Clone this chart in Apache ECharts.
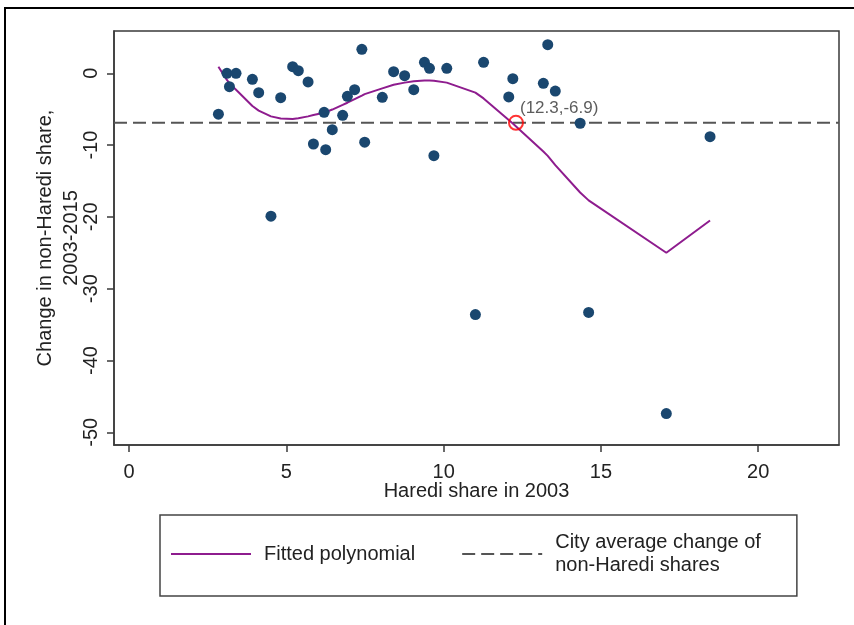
<!DOCTYPE html>
<html>
<head>
<meta charset="utf-8">
<title>Haredi share vs change in non-Haredi share</title>
<script src="https://cdn.jsdelivr.net/npm/echarts@6/dist/echarts.min.js"></script>
<style>
  html, body { margin: 0; padding: 0; background: #fff; }
  #chart { width: 854px; height: 625px; }
</style>
</head>
<body>
<div id="chart"></div>
<script>
// Neighbourhood observations: Haredi share in 2003 and change in non-Haredi share 2003-2015
const harediShare2003 = [2.84, 3.11, 3.19, 3.40, 3.92, 4.12, 4.51, 4.82, 5.20, 5.38,
  5.69, 5.86, 6.20, 6.25, 6.46, 6.79, 6.94, 7.17, 7.40, 7.49,
  8.05, 8.41, 8.76, 9.05, 9.39, 9.55, 9.69, 10.10, 11.01, 11.27,
  12.07, 12.20, 13.17, 13.31, 13.55, 14.34, 14.61, 17.08, 18.47];
const nonHarediChange = [-5.7, 0.0, -1.86, 0.0, -0.84, -2.7, -19.9, -3.4, 0.92, 0.36,
  -1.21, -9.85, -5.43, -10.64, -7.85, -5.85, -3.2, -2.28, 3.34, -9.6,
  -3.34, 0.22, -0.33, -2.28, 1.53, 0.69, -11.47, 0.69, -33.6, 1.53,
  -3.3, -0.75, -1.39, 3.98, -2.47, -6.96, -33.3, -47.4, -8.83];

// Fitted polynomial evaluated at each observed Haredi share
const fittedValues = [0.9, -0.93, -1.4, -2.3, -4.55, -5.2, -6.0, -6.3, -6.35, -6.25,
  -6.0, -5.8, -5.5, -5.4, -5.05, -4.4, -4.1, -3.6, -3.1, -2.9,
  -2.1, -1.6, -1.3, -1.1, -1.0, -1.0, -1.05, -1.3, -2.7, -3.5,
  -6.5, -7.0, -10.9, -11.5, -12.8, -16.6, -17.7, -25.0, -20.5];

// City average change and the point where the fit crosses it
const cityAverage = -6.9;
const crossingPoint = [12.3, -6.9];

// Axis ranges and tick labels
const xRange = [-0.48, 22.57];
const yRange = [-51.77, 5.89];
const xTicks = [0, 5, 10, 15, 20];
const yTicks = [0, -10, -20, -30, -40, -50];

const FONT = '"Liberation Sans", Arial, sans-serif';
const TEXT = '#222';
const AXIS = '#3a3a3a';

const chart = echarts.init(document.getElementById('chart'), null, { renderer: 'canvas' });

const scatterData = harediShare2003.map((x, i) => [x, nonHarediChange[i]]);
const fitData = harediShare2003.map((x, i) => [x, fittedValues[i]]);
const avgData = [[xRange[0], cityAverage], [xRange[1], cityAverage]];

const FIT_NAME = 'Fitted polynomial';
const AVG_NAME = 'City average change of\nnon-Haredi shares';

chart.setOption({
  backgroundColor: '#fff',
  animation: false,
  textStyle: { fontFamily: FONT },
  graphic: [{
    type: 'rect',
    shape: { x: 5, y: 8, width: 1000, height: 1000 },
    style: { fill: 'none', stroke: '#000', lineWidth: 2 },
    silent: true,
    z: 100
  }],
  grid: {
    left: 114, right: 15, top: 31, bottom: 180,
    show: true, borderColor: AXIS, borderWidth: 1.5,
    containLabel: false, outerBoundsMode: 'none'
  },
  legend: {
    data: [FIT_NAME, AVG_NAME],
    left: 160, top: 515,
    orient: 'horizontal',
    itemWidth: 80, itemHeight: 14, itemGap: 46,
    padding: [16, 36, 19, 10],
    borderColor: '#444', borderWidth: 1.5,
    itemStyle: { color: 'rgba(0,0,0,0)', borderWidth: 0 },
    textStyle: { fontFamily: FONT, fontSize: 20, lineHeight: 23, color: TEXT, padding: [0, 0, 0, 8] }
  },
  xAxis: {
    type: 'value',
    min: xRange[0], max: xRange[1],
    name: 'Haredi share in 2003',
    nameLocation: 'middle', nameGap: 36, nameMoveOverlap: false,
    nameTextStyle: { fontFamily: FONT, fontSize: 20, color: TEXT },
    splitLine: { show: false },
    axisLine: { show: true, onZero: false, lineStyle: { color: AXIS, width: 1.5 } },
    axisTick: { show: true, length: 7, customValues: xTicks, lineStyle: { color: AXIS, width: 1.5 } },
    axisLabel: { customValues: xTicks, margin: 17, fontSize: 20, color: TEXT, fontFamily: FONT }
  },
  yAxis: {
    type: 'value',
    min: yRange[0], max: yRange[1],
    name: 'Change in non-Haredi share,\n2003-2015',
    nameLocation: 'middle', nameGap: 30, nameMoveOverlap: false,
    nameTextStyle: { fontFamily: FONT, fontSize: 20, lineHeight: 26, color: TEXT, align: 'center' },
    splitLine: { show: false },
    axisLine: { show: true, onZero: false, lineStyle: { color: AXIS, width: 1.5 } },
    axisTick: { show: true, length: 7, customValues: yTicks, lineStyle: { color: AXIS, width: 1.5 } },
    axisLabel: { customValues: yTicks, rotate: 90, margin: 13, fontSize: 20, color: TEXT, fontFamily: FONT }
  },
  series: [
    {
      name: AVG_NAME,
      type: 'line',
      data: avgData,
      symbol: 'none',
      lineStyle: { color: '#555', width: 2, type: [13, 6] },
      itemStyle: { color: '#555' },
      z: 1
    },
    {
      name: FIT_NAME,
      type: 'line',
      data: fitData,
      symbol: 'none',
      smooth: false,
      lineStyle: { color: '#8e1c8e', width: 2 },
      itemStyle: { color: '#8e1c8e' },
      z: 2
    },
    {
      name: 'observations',
      type: 'scatter',
      data: scatterData,
      symbol: 'circle',
      symbolSize: 11,
      itemStyle: { color: '#1a476f', opacity: 1 },
      z: 3
    },
    {
      name: 'crossing',
      type: 'scatter',
      data: [crossingPoint],
      symbol: 'circle',
      symbolSize: 14,
      itemStyle: { color: 'rgba(0,0,0,0)', borderColor: '#f00', borderWidth: 2 },
      label: {
        show: true,
        position: [12, -7],
        align: 'left', verticalAlign: 'middle',
        formatter: p => '(' + p.value[0] + ',' + p.value[1] + ')',
        fontFamily: FONT, fontSize: 17, color: '#333'
      },
      z: 4
    }
  ]
});
</script>
</body>
</html>
